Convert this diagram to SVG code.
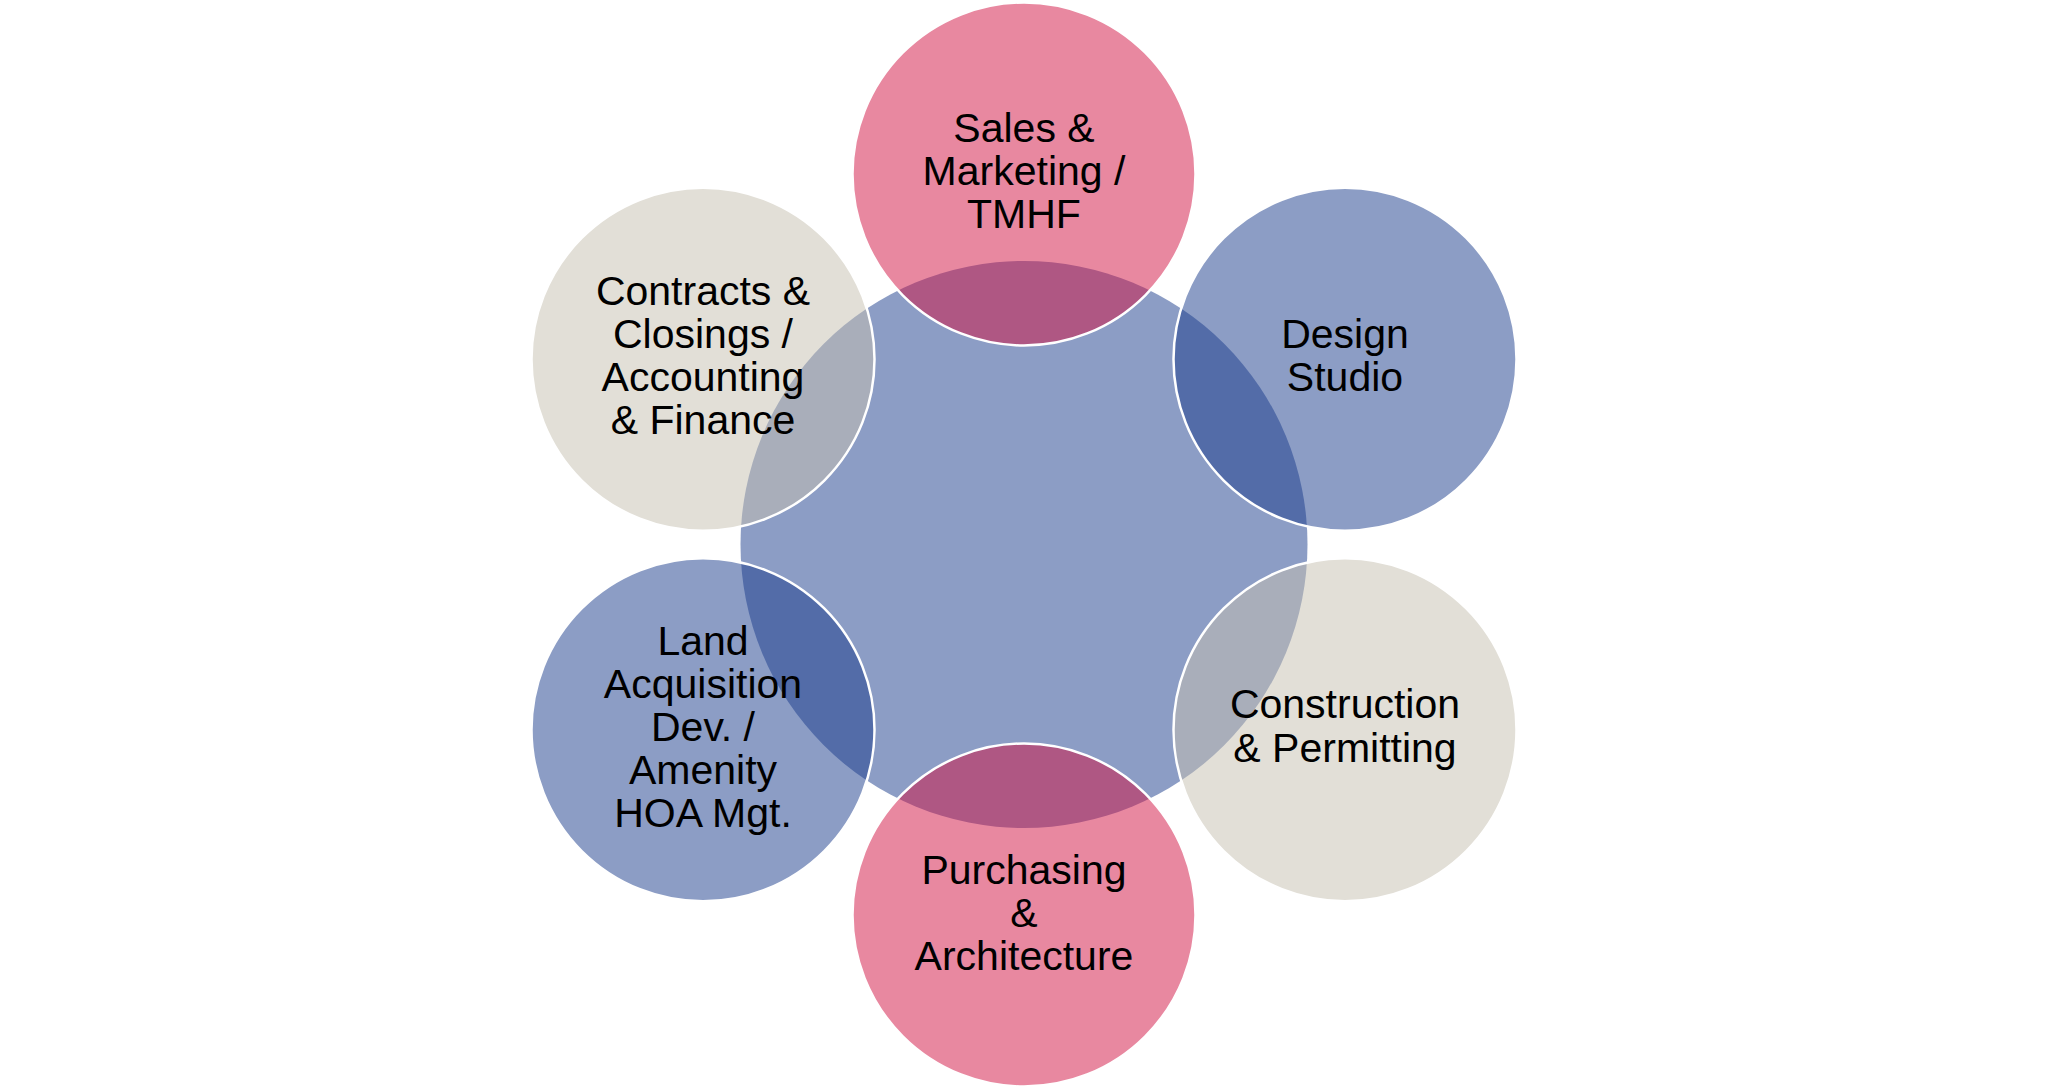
<svg xmlns="http://www.w3.org/2000/svg" width="2048" height="1089" viewBox="0 0 2048 1089">
<style>
.bg{fill:#ffffff}
.center{fill:#8C9DC5}
.node{stroke:#ffffff;stroke-width:2.5;fill-opacity:0.5}
.pink{fill:#D11141}
.blue{fill:#193B8B}
.beige{fill:#C5BFAF}
text{font-family:"Liberation Sans",Arial,sans-serif;font-size:41px;fill:#000000;text-anchor:middle}
</style>
<rect class="bg" x="0" y="0" width="2048" height="1089"/>
<g id="hub">
<circle class="center" cx="1024" cy="544.5" r="283.5"/>
</g>
<g id="connectors"></g>
<g id="node-sales">
<circle class="node pink" cx="1024" cy="174" r="171.5"/>
<text x="1024" y="142">Sales &amp;</text>
<text x="1024" y="185">Marketing /</text>
<text x="1024" y="228">TMHF</text>
</g>
<g id="node-design">
<circle class="node blue" cx="1345" cy="359.25" r="171.5"/>
<text x="1345" y="348">Design</text>
<text x="1345" y="391">Studio</text>
</g>
<g id="node-construction">
<circle class="node beige" cx="1345" cy="729.75" r="171.5"/>
<text x="1345" y="718">Construction</text>
<text x="1345" y="762">&amp; Permitting</text>
</g>
<g id="node-purchasing">
<circle class="node pink" cx="1024" cy="915" r="171.5"/>
<text x="1024" y="884">Purchasing</text>
<text x="1024" y="927">&amp;</text>
<text x="1024" y="970">Architecture</text>
</g>
<g id="node-land">
<circle class="node blue" cx="703" cy="729.75" r="171.5"/>
<text x="703" y="655">Land</text>
<text x="703" y="698">Acquisition</text>
<text x="703" y="741">Dev. /</text>
<text x="703" y="784">Amenity</text>
<text x="703" y="827">HOA Mgt.</text>
</g>
<g id="node-contracts">
<circle class="node beige" cx="703" cy="359.25" r="171.5"/>
<text x="703" y="305">Contracts &amp;</text>
<text x="703" y="348">Closings /</text>
<text x="703" y="391">Accounting</text>
<text x="703" y="434">&amp; Finance</text>
</g>
</svg>
